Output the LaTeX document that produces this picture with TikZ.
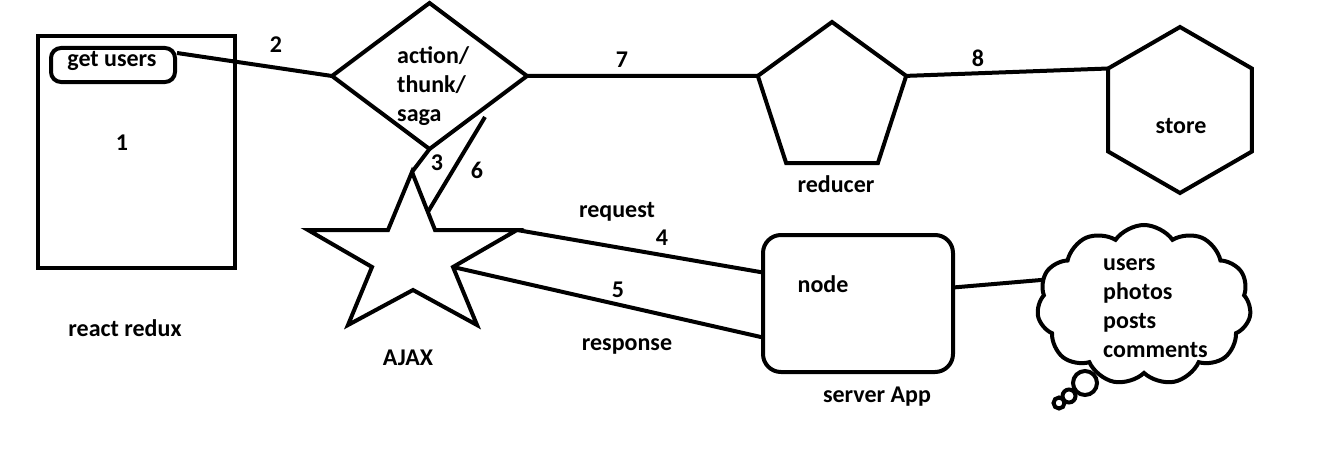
\documentclass[tikz,border=0pt]{standalone}
\usepackage{fontspec}
\setmainfont{Carlito}
\usetikzlibrary{shapes.geometric,shapes.symbols,calc}
\begin{document}
\begin{tikzpicture}[x=1pt,y=-1pt,
  every node/.style={font=\fontsize{24}{29}\selectfont\bfseries},
  shp/.style={draw,line width=4pt,inner sep=0pt,outer sep=0pt},
  conn/.style={line width=4pt},
  lbl/.style={inner sep=0pt}]
\useasboundingbox[fill=white] (0,0) rectangle (1325,460);
% react redux app
\node[shp,minimum width=197,minimum height=232] (app) at (136.5,152) {};
\node[shp,rounded corners=10,minimum width=124,minimum height=34] (gu) at (113,65) {};
\node[lbl] (gutxt) at (112,61) {get users};
\node[lbl] (one) at (122,143) {1};
\node[lbl] (rr) at (125,328) {react redux};
% action diamond
\node[shp,diamond,minimum width=195,minimum height=146] (dia) at (429.5,76) {};
\node[lbl,align=left,anchor=west] (diatxt) at (397,86) {action/\\thunk/\\saga};
% reducer
\node[shp,regular polygon,regular polygon sides=5,minimum size=156] (pent) at (832,100) {};
\node[lbl] (red) at (836,184) {reducer};
% store
\node[shp,regular polygon,regular polygon sides=6,shape border rotate=30,minimum size=166] (hex) at (1180,110) {};
\node[lbl] (store) at (1181,126) {store};
% AJAX star
\coordinate (st1) at (412,172);
\coordinate (si1) at (435,230);
\coordinate (st2) at (517,230);
\coordinate (si2) at (453,267);
\coordinate (st3) at (477,325);
\coordinate (si3) at (413,290);
\coordinate (st4) at (348,325);
\coordinate (si4) at (372,267);
\coordinate (st5) at (308,230);
\coordinate (si5) at (388,230);
\draw[conn,line join=miter] (st1)--(si1)--(st2)--(si2)--(st3)--(si3)--(st4)--(si4)--(st5)--(si5)--cycle;
\node[lbl] (ajax) at (408,358) {AJAX};
% server
\node[shp,rounded corners=18,minimum width=190,minimum height=137] (srv) at (858,303.5) {};
\node[lbl] (nodetxt) at (823,284) {node};
\node[lbl] (sapp) at (877,397) {server App};
% cloud
\node[shp,cloud,cloud puffs=11,cloud puff arc=110,aspect=1.4,minimum width=214,minimum height=160] (cl) at (1144,305) {};
\node[lbl,align=left,anchor=west] (cltxt) at (1103,308) {users\\photos\\posts\\comments};
\node[shp,circle,minimum size=24,fill=white] (b1) at (1085,383) {};
\node[shp,circle,minimum size=13] (b2) at (1069,396) {};
\node[shp,circle,minimum size=11] (b3) at (1059,403) {};
% connectors
\coordinate (c6) at (485,117);
\draw[conn] ($(gu.east)+(2,-12)$) -- (dia.west);
\draw[conn] (dia.east) -- (pent.162);
\draw[conn] (pent.18) -- (hex.150);
\draw[conn] (dia.south) -- (st1);
\draw[conn] (c6) -- ($(st1)!0.69!(si1)$);
\draw[conn] (st2) -- ($(srv.west)+(0,-31)$);
\draw[conn] (si2) -- ($(srv.west)+(0,34)$);
\draw[conn] ($(srv.east)+(0,-16)$) -- (cl.166);
% labels
\node[lbl] (l2) at (276,45) {2};
\node[lbl] (l7) at (622,60) {7};
\node[lbl] (l8) at (978,58) {8};
\node[lbl] (l3) at (437,163) {3};
\node[lbl] (l6) at (477,170) {6};
\node[lbl] (lreq) at (617,212) {request};
\node[lbl] (l4) at (662,238) {4};
\node[lbl] (l5) at (618,290) {5};
\node[lbl] (lresp) at (627,346) {response};
\end{tikzpicture}
\end{document}
